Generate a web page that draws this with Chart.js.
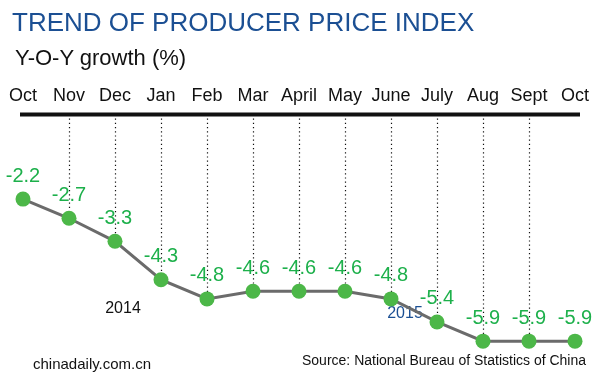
<!DOCTYPE html>
<html>
<head>
<meta charset="utf-8">
<script src="https://cdn.jsdelivr.net/npm/chart.js@4"></script>
<style>
	body { margin: 0; background: #fff; }
	#wrap { position: relative; width: 600px; height: 380px; font-family: "Liberation Sans", Arial, sans-serif; }
	#ppiChart { position: absolute; left: 0; top: 0; }
	.txt { position: absolute; white-space: nowrap; line-height: 1; }
	#title { left: 12px; top: 9px; font-size: 26px; color: #1b4f93; }
	#subtitle { left: 15px; top: 47px; font-size: 22px; color: #111; }
	#site { left: 33px; top: 356px; font-size: 15px; color: #111; }
	#source { left: 302px; top: 353px; font-size: 14px; color: #111; }
</style>
</head>
<body>
<div id="wrap">
	<canvas id="ppiChart" width="600" height="380"></canvas>
	<div class="txt" id="title">TREND OF PRODUCER PRICE INDEX</div>
	<div class="txt" id="subtitle">Y-O-Y growth (%)</div>
	<div class="txt" id="site">chinadaily.com.cn</div>
	<div class="txt" id="source">Source: National Bureau of Statistics of China</div>
</div>
<script>
// Monthly PPI, Oct 2014 - Oct 2015
const months = ["Oct", "Nov", "Dec", "Jan", "Feb", "Mar", "April", "May", "June", "July", "Aug", "Sept", "Oct"];
const ppiGrowth = [-2.2, -2.7, -3.3, -4.3, -4.8, -4.6, -4.6, -4.6, -4.8, -5.4, -5.9, -5.9, -5.9];
const yearNotes = [
	{ text: "2014", index: 2, dx: 8, dy: 67, color: "#111" },
	{ text: "2015", index: 8, dx: 14, dy: 15, color: "#1b4f93" },
];

const FONT = "'Liberation Sans', Arial, sans-serif";

// Axis rule, dotted drop lines, value labels and year notes
const decorPlugin = {
	id: "decor",
	beforeDatasetsDraw(chart) {
		const ctx = chart.ctx;
		const area = chart.chartArea;
		const pts = chart.getDatasetMeta(0).data;
		ctx.save();
		ctx.strokeStyle = "#111";
		ctx.lineWidth = 1.2;
		ctx.setLineDash([1.2, 3]);
		for (let i = 1; i < pts.length - 1; i++) {
			const x = Math.round(pts[i].x) + 0.5;
			ctx.beginPath();
			ctx.moveTo(x, area.top + 4);
			ctx.lineTo(x, pts[i].y);
			ctx.stroke();
		}
		ctx.setLineDash([]);
		ctx.lineWidth = 4;
		ctx.beginPath();
		ctx.moveTo(area.left - 3, area.top);
		ctx.lineTo(area.right + 5, area.top);
		ctx.stroke();

		ctx.font = "20px " + FONT;
		ctx.textAlign = "center";
		ctx.textBaseline = "middle";
		ctx.fillStyle = "#1db04b";
		pts.forEach(function (p, i) {
			ctx.fillText(ppiGrowth[i].toFixed(1), p.x, p.y - 23);
		});

		ctx.font = "16px " + FONT;
		yearNotes.forEach(function (n) {
			const p = pts[n.index];
			ctx.fillStyle = n.color;
			ctx.fillText(n.text, p.x + n.dx, p.y + n.dy);
		});
		ctx.restore();
	},
};

new Chart(document.getElementById("ppiChart").getContext("2d"), {
	type: "line",
	data: {
		labels: months,
		datasets: [
			{
				data: ppiGrowth,
				borderColor: "#6b6b6b",
				borderWidth: 3,
				pointRadius: 7.5,
				pointHoverRadius: 7.5,
				pointBackgroundColor: "#4cb748",
				pointBorderWidth: 0,
				tension: 0,
				clip: false,
			},
		],
	},
	options: {
		responsive: false,
		animation: false,
		events: [],
		layout: {
			padding: {
				top: 85,
				bottom: 35,
				left: 23,
				right: 25,
			},
		},
		plugins: {
			legend: { display: false },
			tooltip: { enabled: false },
		},
		scales: {
			x: {
				position: "top",
				offset: false,
				grid: { display: false },
				border: { display: false },
				ticks: {
					color: "#111",
					padding: 0,
					autoSkip: false,
					maxRotation: 0,
					minRotation: 0,
					font: { family: FONT, size: 18 },
				},
			},
			y: {
				display: false,
				min: -6,
				max: 0,
			},
		},
	},
	plugins: [decorPlugin],
});
</script>
</body>
</html>
